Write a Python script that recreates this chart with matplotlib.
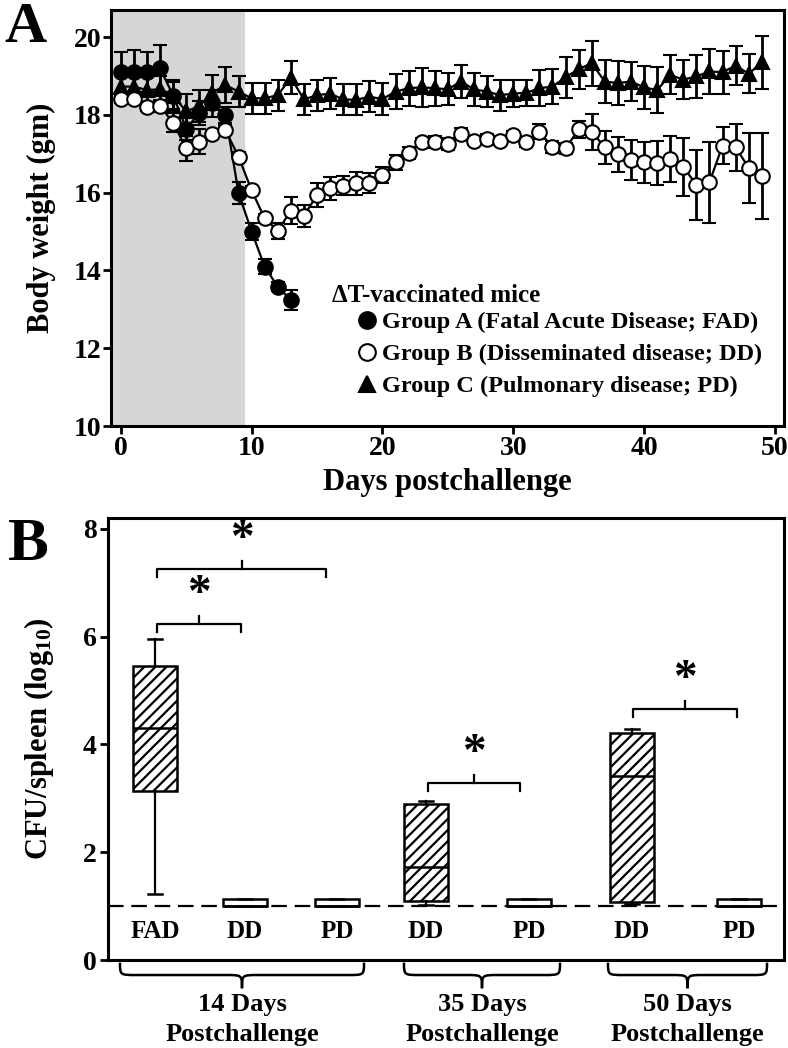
import matplotlib
matplotlib.use('Agg')
import matplotlib.pyplot as plt
import matplotlib.transforms as mtransforms
from matplotlib.lines import Line2D
from matplotlib.path import Path
from matplotlib.patches import PathPatch

plt.rcParams['font.family'] = ['Liberation Serif', 'DejaVu Serif']
plt.rcParams['font.weight'] = 'bold'
plt.rcParams['mathtext.fontset'] = 'custom'
plt.rcParams['mathtext.rm'] = 'Liberation Serif:bold'
plt.rcParams['mathtext.it'] = 'Liberation Serif:bold'
plt.rcParams['mathtext.bf'] = 'Liberation Serif:bold'
plt.rcParams['hatch.linewidth'] = 1.6

# ---------------- Panel A data ----------------
days_a = list(range(14))
weight_a = [19.10, 19.10, 19.10, 19.20, 18.50, 17.65, 18.05, 18.30, 18.00,
            16.00, 15.00, 14.10, 13.58, 13.24]
err_a = [0.52, 0.58, 0.52, 0.60, 0.35, 0.30, 0.30, 0.35, 0.20,
         0.28, 0.22, 0.20, 0.12, 0.26]

days_bc = list(range(50))
weight_b = [18.41, 18.41, 18.21, 18.23, 17.80, 17.14, 17.31, 17.50, 17.61, 16.93,
            16.06, 15.34, 15.02, 15.54, 15.41, 15.94, 16.11, 16.18, 16.24, 16.25,
            16.46, 16.78, 17.03, 17.30, 17.30, 17.25, 17.51, 17.34, 17.38, 17.34,
            17.49, 17.30, 17.57, 17.17, 17.14, 17.63, 17.57, 17.17, 16.99, 16.84,
            16.78, 16.76, 16.86, 16.67, 16.20, 16.27, 17.21, 17.17, 16.64, 16.43]
err_b = [0.10, 0.10, 0.12, 0.15, 0.25, 0.33, 0.32, 0.12, 0.12, 0.12,
         0.12, 0.12, 0.20, 0.34, 0.28, 0.30, 0.30, 0.25, 0.30, 0.25,
         0.20, 0.20, 0.15, 0.12, 0.15, 0.15, 0.15, 0.12, 0.12, 0.12,
         0.10, 0.12, 0.20, 0.15, 0.15, 0.22, 0.46, 0.42, 0.45, 0.52,
         0.52, 0.57, 0.59, 0.75, 0.89, 1.04, 0.48, 0.61, 0.90, 1.11]

weight_c = [18.73, 18.73, 18.64, 18.66, 18.50, 18.09, 18.23, 18.57, 18.77, 18.60,
            18.43, 18.43, 18.51, 18.96, 18.40, 18.51, 18.55, 18.40, 18.39, 18.47,
            18.41, 18.60, 18.69, 18.71, 18.69, 18.66, 18.86, 18.66, 18.60, 18.51,
            18.55, 18.57, 18.69, 18.73, 18.97, 19.18, 19.33, 18.86, 18.82, 18.86,
            18.71, 18.64, 19.03, 18.91, 18.99, 19.12, 19.10, 19.27, 19.06, 19.35]
err_c = [0.35, 0.35, 0.35, 0.35, 0.40, 0.45, 0.40, 0.45, 0.47, 0.40,
         0.40, 0.40, 0.40, 0.42, 0.39, 0.40, 0.40, 0.40, 0.40, 0.40,
         0.40, 0.45, 0.45, 0.50, 0.45, 0.41, 0.43, 0.42, 0.40, 0.40,
         0.35, 0.33, 0.47, 0.45, 0.53, 0.50, 0.58, 0.56, 0.56, 0.50,
         0.55, 0.60, 0.50, 0.50, 0.55, 0.57, 0.55, 0.50, 0.50, 0.67]

shade_end_day = 9.5
legend_title = '\u0394T-vaccinated mice'
legend_labels = ['Group A (Fatal Acute Disease; FAD)',
                 'Group B (Disseminated disease; DD)',
                 'Group C (Pulmonary disease; PD)']

# ---------------- Panel B data ----------------
groups_b = ['FAD', 'DD', 'PD', 'DD', 'PD', 'DD', 'PD']
q1_b = [3.13, 1.00, 1.00, 1.09, 1.00, 1.07, 1.00]
med_b = [4.30, 1.00, 1.00, 1.73, 1.00, 3.41, 1.00]
q3_b = [5.45, 1.13, 1.13, 2.90, 1.13, 4.21, 1.13]
wlo_b = [1.22, 1.00, 1.00, 1.02, 1.00, 1.04, 1.00]
whi_b = [5.95, 1.13, 1.13, 2.95, 1.13, 4.29, 1.13]
hatched_b = [True, False, False, True, False, True, False]
detection_limit = 1.0
timepoints = ['14 Days', '35 Days', '50 Days']
timepoint_sub = 'Postchallenge'

# layout (positions in panel-B x units)
pos_b = [47, 137, 229, 318, 421, 524, 631]
brace_spans = [(12, 256), (296, 452), (500, 659)]
sig_brackets = [(49, 133, 6.23), (49, 218, 7.25), (320, 412, 3.29), (525, 629, 4.66)]

fig = plt.figure(figsize=(7.88, 10.48), dpi=100)
W, H = 788, 1048

def ax_rect(l, t, r, b):
    return [l / W, 1 - b / H, (r - l) / W, (b - t) / H]

# ================= Panel A =================
axA = fig.add_axes(ax_rect(111, 10, 784, 426))
axA.set_xlim(-0.75, 50.7)
axA.set_ylim(10, 20.7)
axA.axvspan(-0.75, shade_end_day, color='#d6d6d6', lw=0, zorder=0)

ekw = dict(color='k', lw=1.6, elinewidth=2.0, capsize=5, capthick=2.0, ms=10.5, mew=1.5)
axA.errorbar(days_bc, weight_c, yerr=err_c, fmt='-^', mfc='k', mec='k', zorder=3, **ekw)
axA.errorbar(days_a, weight_a, yerr=err_a, fmt='-o', mfc='k', mec='k', zorder=4, **ekw)
axA.errorbar(days_bc, weight_b, yerr=err_b, fmt='-o', mfc='white', mec='k', zorder=5, **ekw)

axA.set_xticks(range(0, 51, 10))
axA.set_yticks(range(10, 21, 2))
axA.tick_params(axis='both', direction='out', length=6, width=2, labelsize=20, pad=1)
for s in axA.spines.values():
    s.set_linewidth(2.2)
axA.set_xlabel('Days postchallenge', fontsize=22, fontweight='bold')
axA.xaxis.set_label_coords(0.5, -0.1)
axA.set_ylabel('Body weight (gm)', fontsize=22, fontweight='bold')
axA.yaxis.set_label_coords(-0.082, 0.5)

fig.text(332 / W, 1 - 295 / H, legend_title, fontsize=18, fontweight='bold', va='center', ha='left')
handles = [Line2D([], [], ls='none', marker='o', ms=12, mfc='k', mec='k', mew=1.5),
           Line2D([], [], ls='none', marker='o', ms=12, mfc='white', mec='k', mew=1.5),
           Line2D([], [], ls='none', marker='^', ms=12, mfc='k', mec='k', mew=1.5)]
leg = axA.legend(handles, legend_labels, loc='upper left', bbox_to_anchor=(356 / W, 1 - 311 / H),
                 bbox_transform=fig.transFigure, frameon=False, borderpad=0, borderaxespad=0,
                 handlelength=0.9, handletextpad=0.15, labelspacing=0.42,
                 prop=dict(family='Liberation Serif', weight='bold', size=17.5))
fig.text(4 / W, 1 - 2 / H, 'A', fontsize=42, fontweight='bold', va='top', ha='left')

# ================= Panel B =================
axB = fig.add_axes(ax_rect(108, 518, 784, 960))
axB.set_xlim(0, 676)
axB.set_ylim(0, 8.2)
axB.axhline(detection_limit, color='k', lw=1.6, dashes=(7, 3.5), zorder=1)

stats = []
for i in range(len(groups_b)):
    stats.append(dict(med=med_b[i], q1=q1_b[i], q3=q3_b[i],
                      whislo=wlo_b[i], whishi=whi_b[i], fliers=[]))
bp = axB.bxp(stats, positions=pos_b, widths=44, patch_artist=True, showfliers=False,
             capwidths=14,
             boxprops=dict(facecolor='white', edgecolor='k', lw=1.8),
             medianprops=dict(color='k', lw=1.8),
             whiskerprops=dict(color='k', lw=1.6),
             capprops=dict(color='k', lw=1.8),
             manage_ticks=False, zorder=3)
for patch, h in zip(bp['boxes'], hatched_b):
    if h:
        patch.set_hatch('///')

axB.set_xticks([])
axB.set_yticks(range(0, 9, 2))
axB.tick_params(axis='y', direction='out', length=6, width=2, labelsize=20, pad=2)
for s in axB.spines.values():
    s.set_linewidth(2.2)
axB.set_ylabel('CFU/spleen (log$_{10}$)', fontsize=22, fontweight='bold')
axB.yaxis.set_label_coords(-0.077, 0.5)

for x, g in zip(pos_b, groups_b):
    axB.text(x, 0.52, g, ha='center', va='center', fontsize=18, fontweight='bold')

# significance brackets
for xl, xr, y in sig_brackets:
    xm = (xl + xr) / 2
    axB.plot([xl, xl, xr, xr], [y - 0.15, y, y, y - 0.15], color='k', lw=1.6, solid_joinstyle='round')
    axB.plot([xm, xm], [y, y + 0.15], color='k', lw=1.6)
    axB.text(xm, y + 0.33, '*', ha='center', va='baseline', fontsize=34, fontweight='bold')

# curly braces below the axis
trans = mtransforms.blended_transform_factory(axB.transData, axB.transAxes)
top, mid, tip, r = -0.006, -0.034, -0.064, 16
for (x0, x1), tp in zip(brace_spans, timepoints):
    xm = (x0 + x1) / 2
    verts = [(x0, top), (x0, mid), (x0, mid), (x0 + r, mid),
             (xm - r, mid),
             (xm, mid), (xm, mid), (xm, tip),
             (xm, mid), (xm, mid), (xm + r, mid),
             (x1 - r, mid),
             (x1, mid), (x1, mid), (x1, top)]
    codes = [Path.MOVETO, Path.CURVE4, Path.CURVE4, Path.CURVE4,
             Path.LINETO,
             Path.CURVE4, Path.CURVE4, Path.CURVE4,
             Path.CURVE4, Path.CURVE4, Path.CURVE4,
             Path.LINETO,
             Path.CURVE4, Path.CURVE4, Path.CURVE4]
    axB.add_patch(PathPatch(Path(verts, codes), transform=trans, fill=False,
                            lw=1.8, edgecolor='k', clip_on=False))
    axB.text(xm, -0.101, tp, transform=trans, ha='center', va='center', fontsize=19, fontweight='bold')
    axB.text(xm, -0.168, timepoint_sub, transform=trans, ha='center', va='center', fontsize=19, fontweight='bold')

fig.text(8 / W, 1 - 545 / H, 'B', fontsize=44, fontweight='bold', va='center', ha='left')

fig.savefig('out.png', dpi=100)
